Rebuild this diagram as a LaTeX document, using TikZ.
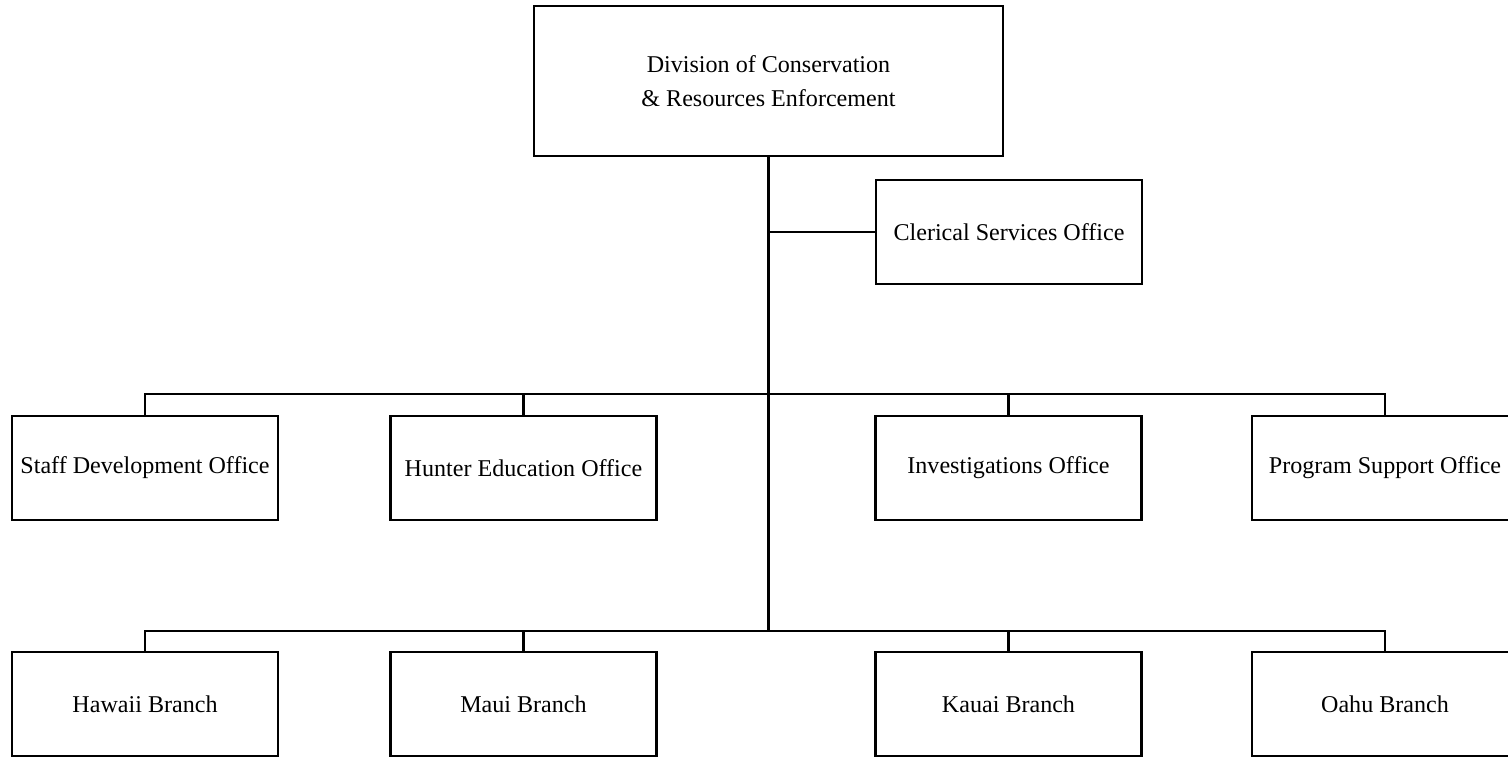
\documentclass[tikz,border=0pt]{standalone}
\usepackage{fontspec}
\setmainfont{Liberation Serif}

\begin{document}
\begin{tikzpicture}[-,line width=1.3pt,
        main node/.style={rectangle,draw,inner sep=0pt,minimum width=5.32cm,minimum height=2.08cm,font=\fontsize{13.7}{19}\selectfont},
        elbow/.style={to path={-| (\tikztotarget)}}]
                    \useasboundingbox (0,0) rectangle (30.16,-15.14);

                    \node[main node,minimum width=9.38cm,minimum height=3cm,align=center] (1) at (15.37,-1.62) {Division of Conservation\\\& Resources Enforcement};
                    \node[main node] (2) at (20.18,-4.64) {Clerical Services Office};

                    \node[main node] (3) at (2.9,-9.36) {Staff Development Office};
                    \node[main node] (4) at (10.47,-9.36) {Hunter Education Office};
                    \node[main node] (5) at (20.17,-9.36) {Investigations Office};
                    \node[main node] (6) at (27.7,-9.36) {Program Support Office};

                    \node[main node] (7) at (2.9,-14.08) {Hawaii Branch};
                    \node[main node] (8) at (10.47,-14.08) {Maui Branch};
                    \node[main node] (9) at (20.17,-14.08) {Kauai Branch};
                    \node[main node] (10) at (27.7,-14.08) {Oahu Branch};

                    \coordinate (a) at (1.south |- 2.west);
                    \coordinate (b) at (1.south |- 0,-7.88);
                    \coordinate (c) at (1.south |- 0,-12.62);

                    \path
                            (1) edge [] (c)
                            (a) edge [] (2)

                            (b) edge [elbow] (3)
                            (b) edge [elbow] (4)
                            (b) edge [elbow] (5)
                            (b) edge [elbow] (6)

                            (c) edge [elbow] (7)
                            (c) edge [elbow] (8)
                            (c) edge [elbow] (9)
                            (c) edge [elbow] (10)
                        ;
                \end{tikzpicture}
\end{document}
